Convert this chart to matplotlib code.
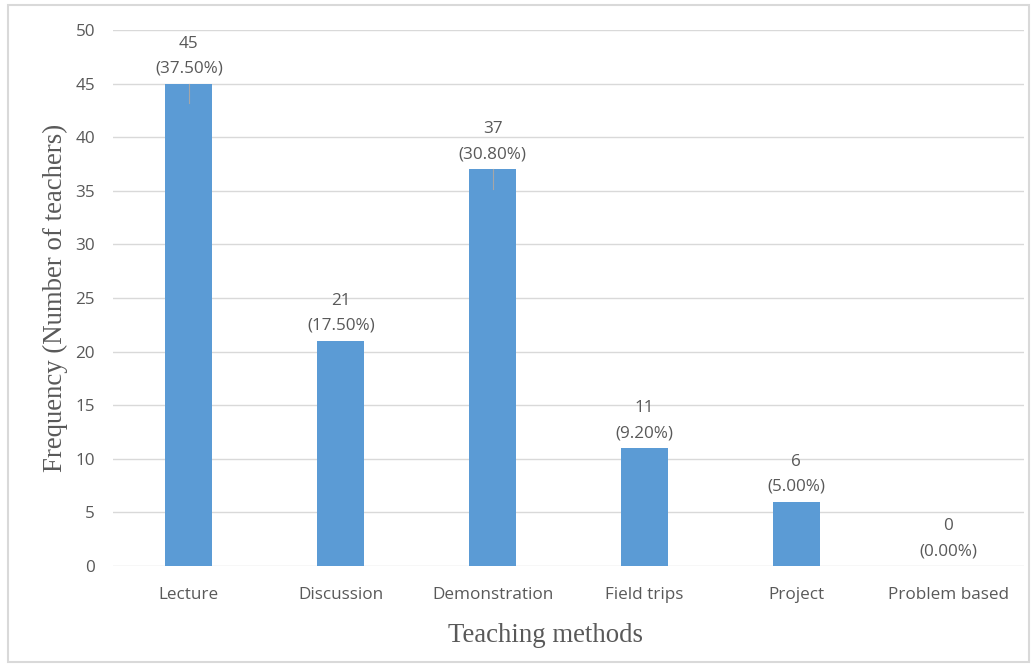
import matplotlib
matplotlib.use("Agg")
import matplotlib.pyplot as plt
from matplotlib.patches import Rectangle

methods = ["Lecture", "Discussion", "Demonstration", "Field trips", "Project", "Problem based"]
frequency = [45, 21, 37, 11, 6, 0]
percent_labels = ["37.50%", "17.50%", "30.80%", "9.20%", "5.00%", "0.00%"]
y_ticks = [0, 5, 10, 15, 20, 25, 30, 35, 40, 45, 50]

bar_color = "#5B9BD5"
text_gray = "#595959"
grid_gray = "#D9D9D9"
sans = "Open Sans"

fig = plt.figure(figsize=(10.35, 6.66), dpi=100)
ax = fig.add_axes([113 / 1035, 100 / 666, 911 / 1035, 536 / 666])

x = list(range(len(methods)))
ax.bar(x, frequency, width=0.31, color=bar_color, zorder=3)

ax.set_xlim(-0.5, len(methods) - 0.5)
ax.set_ylim(0, 50)
ax.set_yticks(y_ticks)
ax.set_xticks(x)
ax.set_xticklabels(methods)
ax.tick_params(axis="both", length=0, labelsize=12.3, labelcolor=text_gray,
               labelfontfamily=sans)
ax.tick_params(axis="x", pad=15)
ax.tick_params(axis="y", pad=13)
ax.grid(axis="y", color=grid_gray, linewidth=1, zorder=0)
for s in ax.spines.values():
    s.set_visible(False)

# value and share labels above each bar
for xi, v, p in zip(x, frequency, percent_labels):
    ax.annotate(f"{v}\n({p})", xy=(xi, v), xytext=(0, 5), textcoords="offset points",
                ha="center", va="bottom", fontsize=12.3, color=text_gray,
                family=sans, linespacing=1.75)

# thin leader ticks on the two bars whose labels overlap gridlines
for xi, v in zip(x, frequency):
    if v in (45, 37):
        ax.plot([xi, xi], [v, v - 1.8], color="#A6A6A6", linewidth=0.8, zorder=4)

# axis titles
fig.text(545 / 1035, 1 - 635 / 666, "Teaching methods", family="Liberation Serif",
         fontsize=19.3, color=text_gray, ha="center", va="center")
fig.text(55 / 1035, 1 - 298 / 666, "Frequency (Number of teachers)",
         family="Liberation Serif", fontsize=19.3, color=text_gray,
         ha="center", va="center", rotation=90)

# chart border
fig.patches.append(Rectangle((8 / 1035, 4 / 666), 1021 / 1035, 657 / 666,
                             transform=fig.transFigure, fill=False,
                             edgecolor=grid_gray, linewidth=1.5))

fig.savefig("out.png", dpi=100)
